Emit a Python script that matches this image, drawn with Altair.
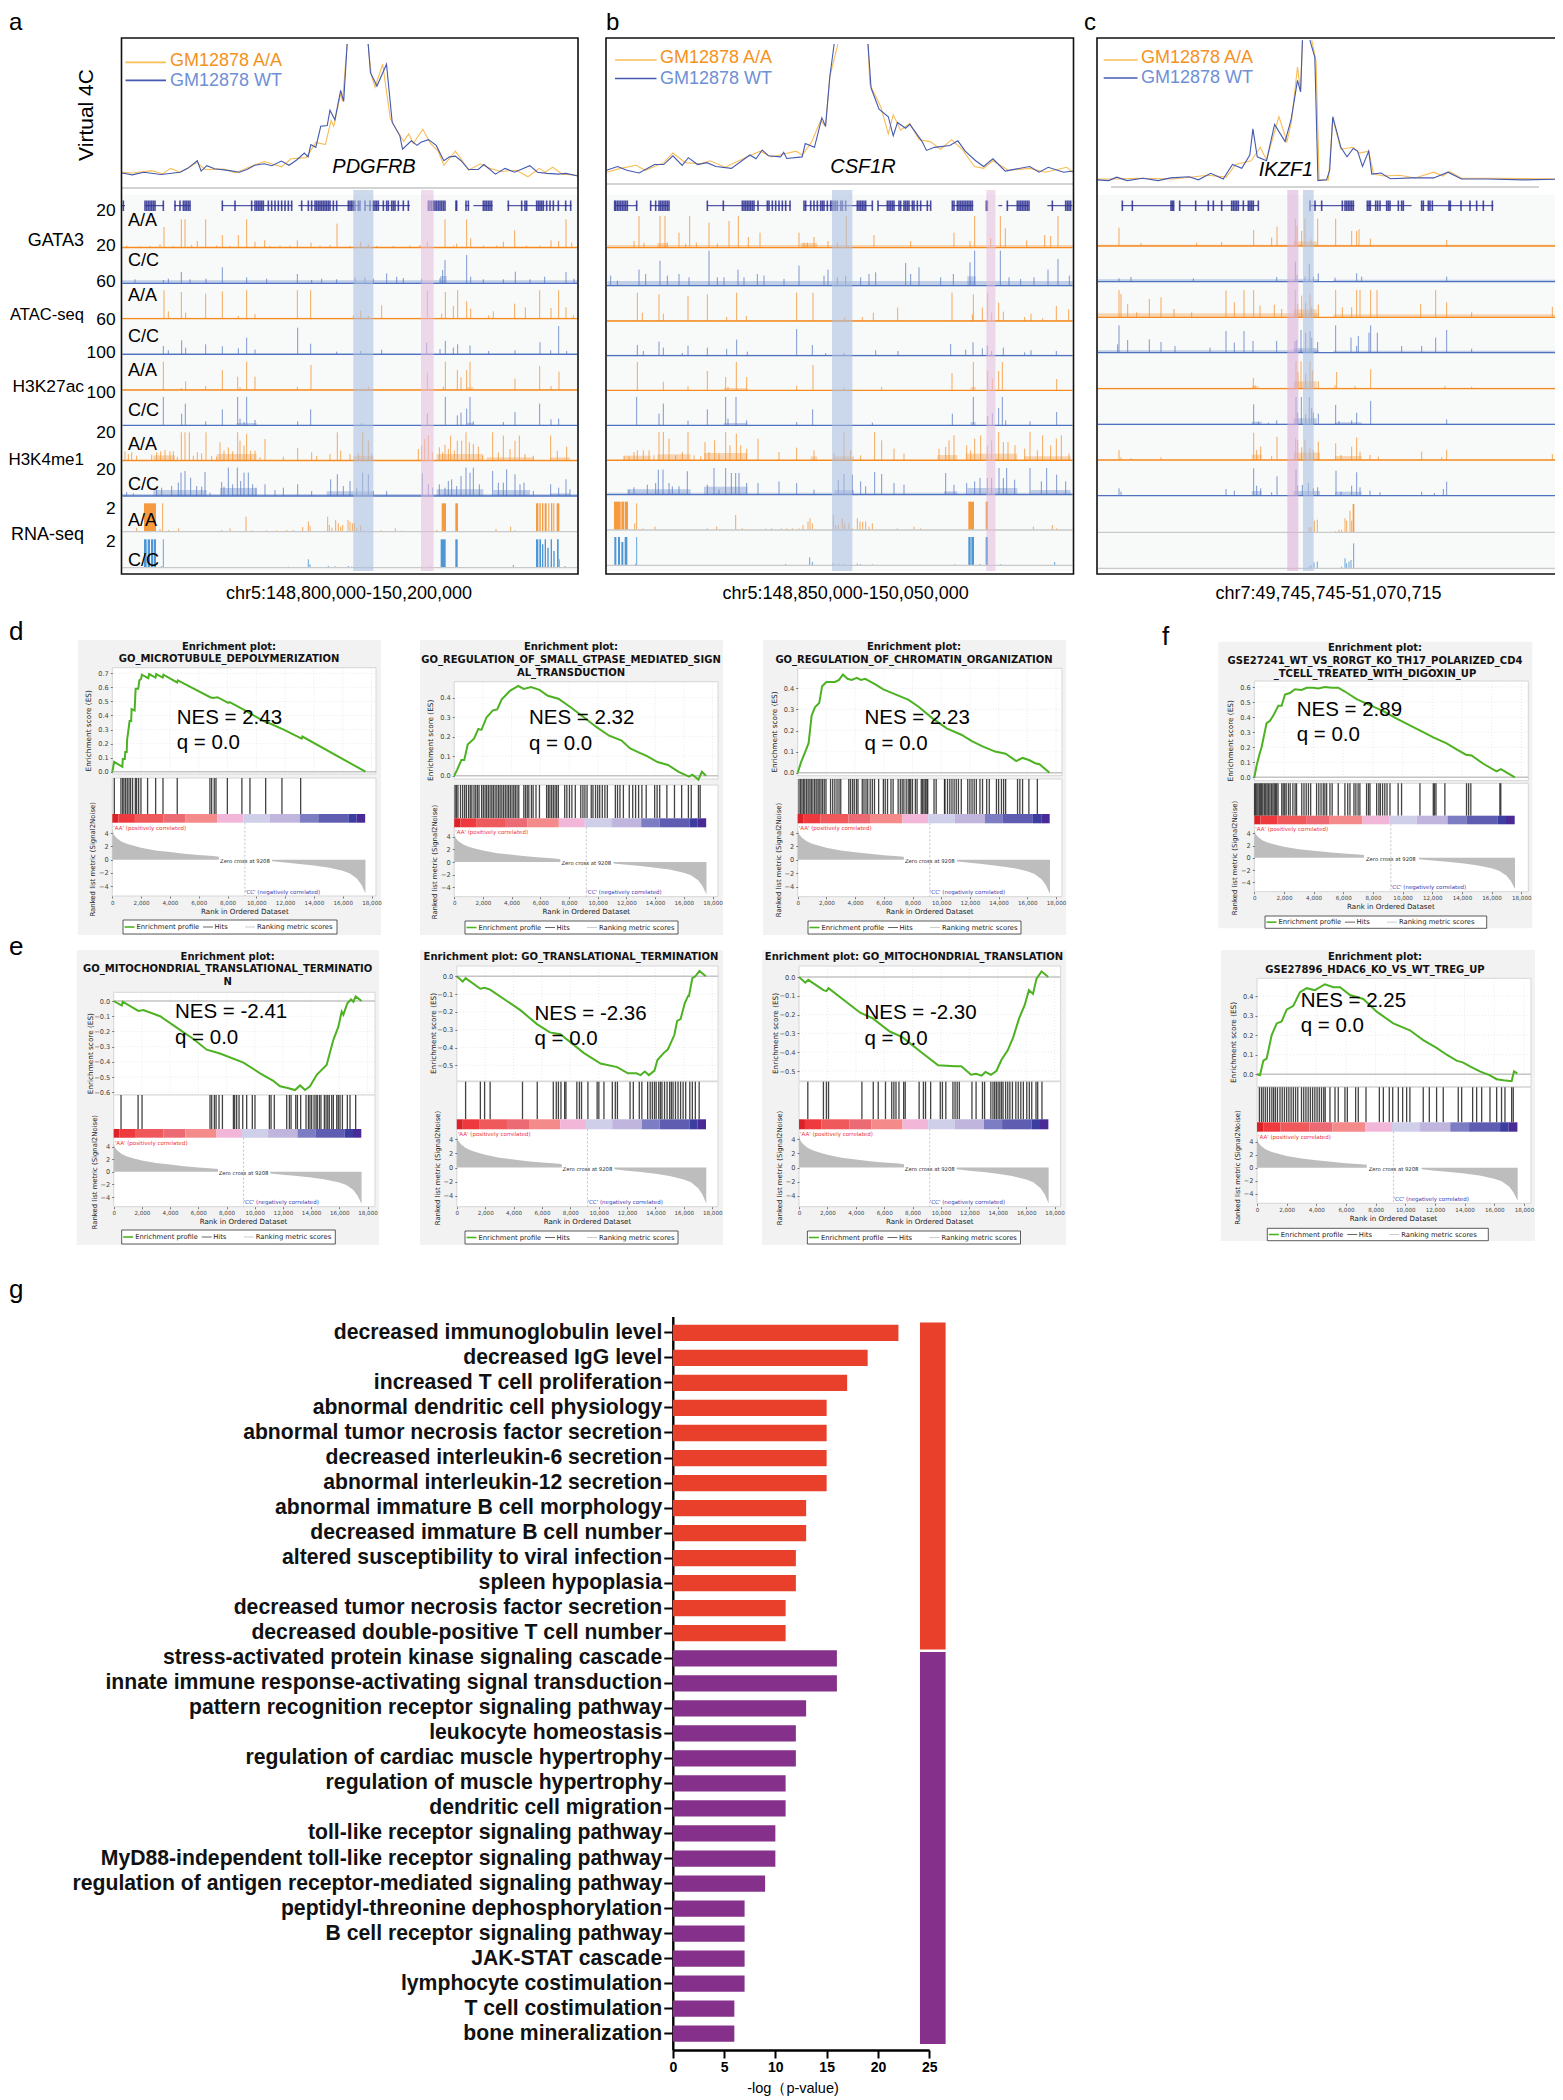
import altair as alt
import pandas as pd

SANS = "Liberation Sans"
DV = "DejaVu Sans"
ORANGE = "#f58a1f"
BLUE = "#4f72c0"
RNA_BLUE = "#2f86d0"
W, H = 1547, 2088
ONE = alt.Data(values=[{"a": 1}])

# ---------------- bar chart values (panel g)
TERMS = ["decreased immunoglobulin level", "decreased IgG level", "increased T cell proliferation",
         "abnormal dendritic cell physiology", "abnormal tumor necrosis factor secretion",
         "decreased interleukin-6 secretion", "abnormal interleukin-12 secretion",
         "abnormal immature B cell morphology", "decreased immature B cell number",
         "altered susceptibility to viral infection", "spleen hypoplasia",
         "decreased tumor necrosis factor secretion", "decreased double-positive T cell number",
         "stress-activated protein kinase signaling cascade", "innate immune response-activating signal transduction",
         "pattern recognition receptor signaling pathway", "leukocyte homeostasis",
         "regulation of cardiac muscle hypertrophy", "regulation of muscle hypertrophy",
         "dendritic cell migration", "toll-like receptor signaling pathway",
         "MyD88-independent toll-like receptor signaling pathway",
         "regulation of antigen receptor-mediated signaling pathway", "peptidyl-threonine dephosphorylation",
         "B cell receptor signaling pathway", "JAK-STAT cascade", "lymphocyte costimulation",
         "T cell costimulation", "bone mineralization"]
LOGP = [22, 19, 17, 15, 15, 15, 15, 13, 13, 12, 12, 11, 11, 16, 16, 13, 12, 12, 11, 11, 10, 10, 9, 7, 7, 7, 7, 6, 6]
N_GROUP1 = 13

# ---------------- virtual 4C (window position, contact)
C4_A_WT = [318,38,345,33,375,40,420,34,470,40,490,50,515,70,525,43,540,57,560,49,600,44,625,40,645,47,665,58,690,62,710,57,735,69,755,58,775,72,795,90,805,80,812,112,825,105,838,160,855,162,862,202,875,177,890,254,898,225,907,375,930,None,962,375,968,300,985,265,1010,322,1025,170,1045,135,1052,100,1075,122,1090,110,1100,118,1120,125,1140,110,1160,70,1175,80,1190,82,1205,70,1225,47,1250,47,1265,60,1295,35,1320,50,1345,40,1385,57,1405,40,1430,37,1460,35,1480,37,1510,30]
C4_A_AA = [318,40,345,38,395,44,425,36,445,50,470,40,515,65,535,47,585,48,615,38,650,53,690,68,735,54,760,75,800,78,825,118,850,112,865,175,872,160,890,245,895,225,907,375,930,None,962,375,970,295,980,262,1000,322,1020,180,1040,145,1055,120,1068,140,1080,115,1105,152,1125,115,1145,95,1160,58,1190,95,1205,75,1225,45,1255,62,1280,50,1310,42,1350,45,1380,28,1410,50,1425,40,1445,53,1470,35,1510,32]
C4_B_WT = [12,35,30,45,45,35,65,28,90,50,105,50,120,73,135,48,145,68,160,50,175,55,190,45,215,40,245,75,255,65,265,88,275,73,295,70,300,82,305,66,330,70,335,105,350,95,362,172,368,150,375,280,382,365,410,None,437,365,442,250,455,195,470,175,478,125,485,160,498,145,505,155,525,110,532,87,545,95,570,100,583,112,595,85,612,60,625,45,640,65,660,33,700,45,715,30,730,43,755,30,771,33]
C4_B_AA = [12,30,35,40,60,48,75,35,105,55,120,80,140,55,165,52,180,60,205,43,240,70,262,85,280,70,320,85,330,75,345,108,360,165,368,150,375,280,388,365,410,None,437,365,440,260,458,200,470,130,478,180,490,140,505,158,520,115,538,110,555,90,573,115,590,90,610,45,625,40,640,60,665,35,700,40,725,30,760,43,771,28]
C4_C_WT = [812,2,830,0,843,9,860,0,885,6,910,0,930,7,960,10,975,2,995,19,1015,4,1030,42,1045,32,1058,67,1063,135,1070,62,1085,52,1098,147,1115,102,1125,162,1135,262,1140,232,1143,367,1149,None,1155,367,1163,322,1168,0,1182,2,1187,27,1192,167,1205,87,1215,62,1225,84,1232,77,1240,37,1250,77,1255,17,1270,20,1285,5,1320,7,1355,7,1378,22,1400,4,1440,4,1500,2,1563,4]
C4_C_AA = [812,4,840,4,880,6,935,4,990,14,1020,9,1035,42,1060,52,1075,87,1085,54,1105,167,1118,102,1125,152,1135,297,1140,232,1143,367,1150,None,1158,367,1165,312,1170,2,1185,2,1192,162,1205,82,1225,87,1235,72,1250,77,1258,17,1275,12,1300,14,1325,7,1355,22,1370,12,1380,24,1400,6,1450,6,1563,4]

# ---------------- genome tracks: flat lists of (position, height)
A_TR = [
 [20,6,60,4,90,5,120,10,132,62,160,5,184,85,195,85,215,8,232,20,257,85,290,6,307,38,330,5,355,38,380,85,405,18,434,22,450,5,480,6,510,6,532,22,573,15,600,6,630,8,651,72,690,5,722,18,745,10,770,5,820,5,870,6,900,8,922,18,975,85,1000,6,1010,12,1040,85,1052,28,1090,6,1130,6,1150,18,1184,52,1220,6,1260,6,1293,22,1316,20,1338,85,1355,15],
 [45,12,130,10,145,14,184,34,210,12,258,14,307,48,380,18,440,14,532,28,575,10,605,14,650,12,705,18,735,18,760,14,800,30,830,20,850,16,905,14,960,15,968,40,975,70,1040,85,1052,20,1090,12,1150,12,1186,35,1230,12,1274,20,1338,34,1362,14],
 [132,85,145,22,184,80,197,18,257,75,307,82,355,8,380,85,405,14,532,85,572,85,700,10,722,24,745,8,785,40,922,85,965,15,976,80,1000,38,1013,85,1040,52,1052,30,1106,10,1120,22,1184,45,1216,34,1259,85,1293,32,1316,85,1338,34,1360,10],
 [130,25,145,12,185,42,197,20,257,30,307,24,355,18,380,50,405,14,533,80,572,32,650,8,722,10,785,14,920,35,960,16,976,40,1000,20,1013,30,1050,26,1106,10,1185,12,1260,36,1292,12,1316,85,1340,10],
 [130,85,184,6,197,26,257,12,307,60,353,40,360,8,380,85,405,40,532,10,573,75,745,10,922,52,970,10,976,85,1012,60,1023,38,1040,60,1050,85,1185,34,1259,72,1293,12,1317,55],
 [130,85,185,35,196,65,257,12,307,48,353,85,360,20,372,10,380,85,405,16,533,12,572,48,725,6,922,35,976,85,1012,30,1023,38,1040,50,1050,85,1060,12,1150,10,1185,40,1259,65,1293,18,1316,20],
 [15,28,25,20,35,25,50,15,95,18,110,25,122,28,135,32,150,28,160,28,172,12,184,85,195,85,208,85,220,15,232,25,245,22,258,85,275,14,290,12,300,55,312,30,325,40,338,28,353,85,360,60,372,45,380,80,392,30,405,30,420,10,435,65,490,12,533,38,575,25,590,14,630,20,652,85,662,30,690,20,715,20,728,85,745,60,755,20,895,35,905,45,914,65,925,75,937,25,958,40,968,25,975,48,985,35,992,75,1003,30,1012,60,1025,60,1038,85,1048,55,1060,50,1075,42,1088,15,1118,85,1135,25,1150,75,1170,35,1185,60,1198,75,1215,20,1240,15,1292,75,1312,30,1340,42],
 [20,12,40,8,110,20,125,25,155,30,175,40,183,70,195,75,212,55,230,30,245,28,255,72,270,10,305,42,312,28,325,85,338,35,352,85,362,45,372,70,385,70,398,35,408,25,435,35,465,18,490,25,533,35,575,15,632,50,652,65,670,30,690,45,710,25,728,70,745,65,760,15,800,15,907,68,925,35,938,25,958,35,975,25,985,45,995,50,1010,30,1023,60,1038,85,1050,70,1060,85,1078,35,1118,75,1135,40,1150,40,1160,80,1185,65,1200,35,1212,40,1240,15,1292,35,1316,25,1338,50,1350,20],
 [50,12,120,8,128,85,146,5,176,10,305,5,330,10,378,45,395,4,440,4,470,4,500,5,520,5,548,14,565,30,570,18,623,45,628,20,636,12,647,35,655,25,662,15,668,20,684,35,690,30,697,25,703,25,710,10,722,18,783,4,826,10,846,3,950,5,1128,8,1172,15,1185,4],
 [125,5,130,85,505,3,565,25,570,10,625,5,645,4,685,5,695,3,930,4,1180,8,1335,5],
]
A_BLOCKS = [[], [], [], [], [], [], [], [], [72,108,85,965,978,85,1006,1014,85,1248,1255,85,1258,1262,85,1266,1270,85,1274,1280,85,1285,1288,85,1293,1297,85,1300,1303,85,1310,1318,85],
            [72,80,85,83,90,85,93,100,85,102,108,85,962,977,85,1006,1013,85,1248,1255,85,1258,1263,85,1266,1270,70,1274,1278,85,1282,1286,60,1292,1296,85,1300,1304,50,1311,1316,85,1318,1320,25]]
# low background signal: flat (start, end, level)
A_NOISE = [[6,1374,4], [6,1374,9,960,980,22], [6,1374,3], [6,1374,3], [6,1374,2,1040,1060,8], [6,1374,1,350,410,7,1040,1060,8],
           [6,1374,4,100,165,16,290,410,20,700,760,14,950,1090,20,1100,1240,10,1290,1350,10],
           [6,1374,6,100,260,18,300,410,24,620,760,14,950,1090,20,1120,1230,18,1290,1350,8], [], []]

B_TR = [
 [90,20,105,95,120,15,168,95,183,95,190,15,225,45,245,12,257,95,277,15,315,75,340,12,375,80,403,95,433,32,468,45,585,45,600,15,610,15,630,32,672,20,700,15,727,95,810,38,920,20,1050,45,1098,20,1112,95,1160,28,1189,95,1204,58,1268,22,1322,38,1340,35,1362,95],
 [20,30,40,15,105,48,125,35,168,75,190,30,225,35,255,25,315,105,340,25,360,25,402,48,420,25,460,35,480,30,540,20,585,60,660,30,672,48,700,25,725,30,770,25,795,35,815,40,905,68,920,35,945,55,1010,25,1048,35,1098,70,1112,105,1189,105,1215,25,1250,20,1290,25,1332,48,1362,80,1396,30],
 [100,85,115,25,165,80,178,22,252,75,310,80,368,12,398,85,427,15,578,85,627,85,722,10,775,12,808,25,881,40,1044,85,1105,20,1108,80,1135,40,1151,85,1163,25,1184,55,1198,28,1262,12,1281,22,1316,8,1357,45,1394,35],
 [100,32,118,14,165,42,178,24,235,8,252,30,310,24,368,20,398,48,430,12,578,80,625,32,665,8,720,8,815,16,882,14,1040,35,1085,18,1107,40,1135,22,1150,30,1163,14,1198,24,1262,10,1281,16,1357,14],
 [100,85,178,26,252,12,310,58,365,40,372,10,397,85,428,40,578,14,627,76,720,8,833,10,1044,52,1108,85,1151,58,1165,36,1184,58,1195,85,1358,34],
 [98,85,165,35,178,65,252,14,310,48,365,85,372,20,396,85,428,15,578,10,626,48,805,8,1045,35,1108,85,1151,28,1165,36,1184,52,1195,85,1205,15,1278,12,1358,40],
 [60,14,75,12,90,25,100,30,118,30,135,30,150,15,165,85,178,85,195,65,215,15,235,25,252,85,270,15,290,12,303,55,315,25,332,60,345,20,365,85,378,45,397,80,410,45,428,35,462,65,525,25,578,38,630,30,690,20,720,85,740,30,770,15,812,85,833,60,870,35,900,20,1005,35,1025,40,1035,60,1050,75,1088,45,1100,30,1112,65,1130,75,1150,45,1163,60,1184,85,1198,55,1212,55,1233,45,1262,35,1278,85,1300,30,1316,75,1340,45,1357,65,1372,75,1395,20],
 [75,15,90,22,130,30,155,35,163,75,177,75,195,35,205,25,225,25,250,70,310,30,330,80,345,15,365,80,382,65,395,65,405,65,428,35,462,35,525,40,578,35,630,15,703,45,720,62,745,60,770,40,785,25,812,68,833,62,870,35,900,30,1025,65,1050,30,1088,35,1112,40,1128,50,1150,50,1163,50,1185,80,1198,50,1208,80,1232,45,1278,80,1312,40,1328,80,1358,60,1385,40],
 [92,20,98,80,117,5,153,10,310,5,338,10,395,45,415,5,485,4,503,5,532,5,548,5,565,5,585,5,597,15,612,25,618,35,625,20,688,45,695,15,703,15,715,35,722,20,735,20,745,5,760,35,768,25,776,25,785,25,795,10,805,20,880,5,930,10,950,5,1288,10,1345,15,1358,5],
 [95,5,98,85,545,4,617,24,625,10,688,6,705,4,720,3,760,5,770,4,805,3,1052,3,1128,4,1190,3,1352,10],
]
B_BLOCKS = [[], [], [], [], [], [], [], [], [30,50,85,52,60,85,62,72,85,1093,1110,85,1145,1152,85],
            [31,37,85,42,48,85,52,58,70,62,70,85,1093,1100,85,1102,1110,85,1145,1152,85]]
B_NOISE = [[10,1406,8,160,190,14,590,640,14], [10,1406,14,1090,1115,28], [10,1406,3], [10,1406,3], [10,1406,1,360,430,7,1100,1115,10], [10,1406,1,360,430,7,1100,1115,10],
           [10,1406,4,60,140,14,160,260,18,300,430,22,620,640,12,690,750,12,1000,1060,16,1085,1240,20,1260,1400,12],
           [10,1406,6,70,260,16,300,430,24,690,750,14,1020,1060,10,1090,1240,20,1280,1400,14], [], []]

C_TR = [
 [72,55,138,8,305,10,380,12,476,48,530,25,546,58,601,82,606,60,620,45,630,82,648,20,668,82,722,82,770,45,785,45,792,50,826,22,1055,18],
 [72,10,108,14,295,10,545,14,601,60,606,20,630,15,643,52,655,15,670,25,720,12,785,25,800,15,1055,15],
 [72,82,78,70,98,40,125,15,163,55,198,60,237,25,290,15,393,80,418,45,447,82,476,82,495,35,538,38,560,25,601,82,608,40,620,65,632,45,645,70,650,30,670,38,722,82,742,30,770,30,785,82,795,82,827,82,846,82,977,40,1022,82,1055,45,1130,15,1372,32],
 [68,25,72,82,98,38,163,40,198,32,240,20,345,15,393,65,418,30,447,65,474,35,545,35,600,35,605,38,618,68,632,60,645,65,650,45,668,32,722,82,768,45,785,20,790,50,822,60,827,82,847,60,920,20,980,20,1022,45,1055,68,1130,12],
 [475,32,480,10,603,82,609,50,618,82,632,45,645,82,652,55,670,22,720,10,725,50,780,8,827,58,1050,8,1130,6],
 [476,60,490,8,520,5,545,12,603,82,608,35,619,82,632,30,643,82,650,50,655,35,670,32,722,58,732,10,770,12,785,35,827,70,1055,15],
 [72,30,78,8,108,5,198,8,476,82,485,30,497,40,530,12,546,70,602,65,608,60,620,38,630,60,645,35,655,30,670,55,722,50,738,15,770,40,785,68,795,25,825,15,850,10,980,25,1040,8,1055,30,1372,18],
 [72,22,78,12,393,20,418,15,476,82,485,30,497,22,530,10,546,58,603,78,608,30,622,32,640,38,655,22,668,25,723,75,738,12,770,30,785,70,795,25,825,15,855,10,980,12,1018,8,1045,20,1055,42],
 [642,15,648,15,658,35,667,38,722,4,732,8,740,8,750,42,755,35,765,65,770,35],
 [642,5,648,10,657,18,667,20,740,5,750,30,755,15,762,20,768,25,776,75],
]
C_BLOCKS = [[], [], [], [], [], [], [], [], [773,778,85], []]
C_NOISE = [[8,1396,4,595,665,14], [8,672,7,715,1396,6], [8,672,12,715,1396,9,595,665,24], [8,672,7,715,1396,6,595,665,14],
           [8,1396,3,595,665,22,470,490,8], [8,1396,2,595,665,18,470,500,8,720,800,6],
           [8,1396,1,470,500,16,595,675,22,720,800,12], [8,1396,1,470,500,14,595,675,14,720,800,12], [], []]

# ---------------- genes: intron spans and exon positions
A_SPANS = [5,15,75,132,162,212,307,517,535,720,735,870,1035,1048,1060,1118,1162,1340,1337,1355]
A_EXONS = [10,75,80,85,90,95,100,105,130,165,180,190,195,200,205,210,307,345,395,405,410,415,420,425,430,445,455,465,475,485,495,505,515,545,565,575,585,590,595,600,605,610,615,620,625,630,640,650,685,690,695,700,705,715,720,735,750,760,765,770,775,790,800,805,815,820,825,835,850,865,925,930,935,940,945,950,955,960,965,970,975,1008,1010,1038,1045,1090,1095,1100,1105,1110,1115,1165,1205,1215,1220,1250,1255,1260,1265,1270,1280,1290,1300,1315,1337,1352]
B_SPANS = [35,100,138,195,310,560,600,805,822,980,1045,1108,1183,1195,1208,1275,1330,1405]
B_EXONS = [32,35,40,45,50,55,60,65,70,98,140,155,165,170,175,180,185,190,195,310,358,415,420,425,430,435,440,445,450,462,490,495,505,515,525,535,545,558,600,605,620,630,640,650,655,660,670,680,685,690,695,700,710,715,725,760,765,770,775,780,785,805,822,850,855,860,865,870,885,890,900,905,910,915,925,930,940,950,970,980,1045,1050,1060,1065,1070,1075,1080,1085,1090,1095,1100,1105,1147,1150,1210,1240,1245,1250,1255,1260,1265,1270,1275,1345,1385,1390,1395,1400]
C_SPANS = [80,238,254,490,645,778,815,950,977,1195]
C_EXONS = [82,112,228,232,236,254,302,340,355,380,410,415,420,425,430,445,460,465,470,475,490,645,660,680,742,750,755,760,765,770,775,817,822,826,842,848,855,875,880,885,910,920,925,980,985,1000,1005,1012,1062,1066,1098,1125,1145,1165,1192]

# ---------------- GSEA curves: flat (rank, ES)
ES_D1 = [0,0,130,.07,700,.035,730,.09,870,.09,900,.14,1000,.14,1030,.23,1100,.28,1200,.36,1310,.36,1340,.445,1550,.435,1620,.59,1800,.59,1880,.65,2000,.66,2050,.69,2500,.665,2560,.695,3000,.67,3050,.695,3500,.67,3550,.69,4500,.635,4550,.65,6800,.53,7000,.525,7300,.53,8050,.49,8150,.495,9150,.44,9650,.41,10700,.35,10800,.35,11900,.3,13150,.235,13200,.25,17580,0]
ES_D2 = [0,0,200,.03,500,.08,700,.08,940,.16,1380,.19,1680,.24,1900,.235,2260,.30,2700,.335,3000,.34,3300,.39,3880,.435,4470,.46,4850,.445,5350,.455,5940,.44,6530,.41,7260,.395,8140,.35,9030,.30,9900,.25,10800,.205,11670,.18,12260,.14,12850,.12,13440,.10,14170,.07,14900,.055,15640,.02,16370,-.005,16600,.005,17020,-.02,17260,.02,17550,0]
ES_D3 = [0,0,235,.05,530,.1,760,.14,970,.27,1200,.31,1500,.33,1700,.41,2000,.43,2590,.43,2880,.44,3150,.465,3470,.445,3760,.44,4120,.45,4410,.44,4700,.445,5380,.42,5970,.395,6850,.37,7730,.345,8470,.31,9350,.26,10380,.21,11400,.18,12140,.15,12880,.125,13760,.10,14490,.09,15230,.055,15670,.07,16110,.06,16550,.045,16850,.04,17550,0]
ES_E1 = [0,0,570,-.03,640,-.005,1750,-.065,2100,-.06,3290,-.10,4470,-.175,5650,-.25,6600,-.32,7540,-.345,9200,-.405,10380,-.475,11320,-.525,11800,-.56,12270,-.57,12860,-.585,13220,-.555,13570,-.585,13920,-.56,14400,-.485,15100,-.42,15580,-.255,15930,-.17,16170,-.07,16290,-.09,16570,-.015,16830,.01,17000,-.005,17160,.03,17580,0]
ES_E2 = [0,0,415,-.03,620,-.01,1660,-.07,1960,-.065,2350,-.075,4480,-.19,5670,-.27,6560,-.315,7300,-.325,8940,-.43,10130,-.49,11300,-.51,12060,-.545,12650,-.545,12950,-.555,13250,-.535,13540,-.555,13930,-.53,14140,-.47,14590,-.43,14880,-.41,15330,-.33,15530,-.25,15770,-.24,16070,-.15,16300,-.11,16360,-.11,16600,-.01,16810,0,17100,.03,17550,0]
ES_E3 = [0,0,445,-.03,650,-.015,1720,-.07,1930,-.075,2080,-.06,4310,-.19,5200,-.22,6390,-.29,7280,-.32,8610,-.40,9800,-.47,10990,-.475,11430,-.475,12120,-.52,12470,-.515,12860,-.525,13130,-.505,13510,-.52,13900,-.50,14260,-.44,14700,-.39,15090,-.32,15500,-.22,15890,-.15,16190,-.07,16480,-.09,16720,-.01,17080,.03,17550,0]
ES_F1 = [0,0,160,.08,340,.15,490,.2,830,.36,1060,.375,1280,.41,1620,.475,1840,.475,2070,.55,2400,.56,2740,.585,3190,.58,3530,.595,3980,.595,4310,.59,4760,.6,5210,.595,5660,.595,6110,.57,6900,.52,7800,.48,8700,.44,9600,.39,10490,.345,11390,.30,12070,.265,12970,.225,13640,.185,14270,.15,14650,.145,15440,.09,16340,.04,16630,.055,17570,0]
ES_F2 = [0,0,200,-.005,430,.07,650,.08,990,.2,1330,.26,1660,.27,2000,.33,2450,.35,2900,.42,3350,.44,3910,.43,4580,.46,5150,.445,5600,.445,6270,.405,7170,.385,8070,.32,9190,.26,10310,.225,11210,.175,12110,.135,12790,.10,13460,.07,13910,.06,14360,.04,15030,.015,15710,-.005,16160,-.025,16610,-.03,17170,-.035,17330,.015,17550,.005]

HITS_D1 = [140,600,720,810,925,1040,1160,1270,1410,1600,1690,1830,1990,2450,3010,3520,4510,6780,6900,7080,7200,7990,9000,9560,10650,11780,13080]
HITS_D2 = [60,150,260,440,590,730,850,1000,1120,1230,1380,1500,1620,1730,1910,2030,2150,2260,2380,2500,2620,2730,2850,2970,3090,3200,3320,3440,3560,3680,3790,3910,4030,4150,4260,4380,4500,4850,4970,5090,5200,5380,5500,5700,5940,6440,6560,6670,6790,6910,7030,7140,7260,7700,7850,8030,8200,8440,8820,8970,9110,9260,9550,9670,9850,10000,10140,10320,10500,10670,11230,11380,11550,11790,12200,12440,12640,12850,13080,13380,13970,14140,14320,14820,15350,15850,16320,16520,17020,17140]
HITS_D3 = [90,200,300,410,500,620,730,850,950,1060,1180,1290,1410,1500,1620,1730,1850,1970,2290,2440,2590,2740,2880,3000,3560,3680,3820,3940,4090,4200,4500,4620,4760,4880,5050,5200,5350,5640,5970,6100,6260,6500,6650,7000,7150,7280,7400,7560,7700,7800,7880,8000,8200,8320,8610,8700,8800,8900,9000,9060,9500,9650,10230,10260,10440,10600,10750,10900,11050,11200,11400,11850,12000,12150,12300,12450,12700,12880,13170,13350,13850,14000,14200,14350,14490,15320,15480,15670,16110,16700]
HITS_E1 = [520,1730,2010,6830,6950,7140,7260,7470,7710,8490,8580,8720,8890,9150,9430,9830,10020,11040,11160,11390,12270,12460,12580,12910,13030,13260,13640,13810,13920,14040,14210,14350,14440,14590,14700,14940,15060,15180,15290,15460,15580,15820,15930,16050,16220,16570,16760,17160]
HITS_E2 = [620,1660,1960,2350,4630,5670,6800,7010,7160,7340,7600,7690,8460,8640,8790,9240,9890,10010,10370,10960,11170,11320,12210,12440,12860,13040,13450,13630,13780,13930,14050,14230,14350,14460,14640,14820,15000,15120,15240,15410,15590,15770,15950,16130,16420,16600,16810,17080]
HITS_E3 = [620,1720,1930,2080,4430,5230,5580,6090,6530,6680,6830,7040,7370,7480,8460,8760,8910,9270,9950,10100,10340,10840,10990,11140,11290,12180,12470,12920,13070,13510,13660,13780,13900,14020,14140,14260,14370,14550,14700,14850,15030,15270,15440,15620,15800,16040,16220,16390,16690,16810,17110]
HITS_F1 = [20,90,170,250,340,430,500,580,680,770,860,950,1050,1150,1250,1340,1420,1500,1600,1850,1950,2050,2150,2300,2420,2600,2750,2850,3200,3350,3500,3650,3800,4200,4350,4500,4650,4760,4880,5100,5250,5660,6110,6300,6450,6720,6850,7000,7120,7570,7700,7800,8250,8400,8500,8650,8800,8950,9150,9700,9930,11170,12070,12150,12250,12850,14310,14450,14600,16560,16620]
HITS_F2 = [160,300,420,560,700,850,1000,1120,1240,1380,1550,1700,1850,2000,2150,2300,2450,2600,2750,3000,3150,3300,3450,3600,3750,3900,4050,4200,4350,4500,4600,4920,5260,5480,5930,6090,6650,6830,7350,8250,8520,8920,9150,9530,9820,10090,10310,11210,11620,12110,12560,13570,13800,14540,14810,15150,15710,16160,16490,16720,17170,17280]

METRIC_POS = [0,4.6,100,3.8,300,3.3,600,2.8,1000,2.4,1500,2.1,2000,1.8,3000,1.4,4000,1.15,5000,.9,6000,.7,7000,.55,7400,.45]
METRIC_NEG = [11100,-.25,12000,-.45,13000,-.65,14000,-.9,15000,-1.2,16000,-1.7,16500,-2.1,17000,-2.9,17300,-3.8,17580,-5.1]
BAR_EDGES = [0,420,1570,3540,5090,7290,9100,10950,13030,14300,16390,16970,17560]
BAR_COLORS = ["#dc2127","#ee3a3e","#f0595c","#ec6a74","#f48a8a","#f2b6d8","#cfcfe9","#bfb5dd","#7d7dc3","#5f5db1","#3b3d9f","#4a2a96"]
RANK_TICKS = [0,2000,4000,6000,8000,10000,12000,14000,16000,18000]

# ---------------- helpers
def S(domain, a, b):
    return alt.Scale(domain=domain, range=[a - 8, b - 8], nice=False, zero=False)

def pairs(flat, a="x", b="y"):
    return pd.DataFrame({a: flat[0::2], b: flat[1::2]})

def text(s, x, y, size, color="#000", font=SANS, weight="normal", style="normal", align="left", angle=0, baseline="middle"):
    return alt.Chart(ONE).mark_text(font=font, fontSize=size, color=color, fontWeight=weight, fontStyle=style,
                                    align=align, baseline=baseline, angle=angle).encode(
        x=alt.value(x - 8), y=alt.value(y - 8), text=alt.value(s))

def box(x0, y0, x1, y1, fill, stroke=None, sw=1, opacity=1):
    kw = dict(fill=fill, opacity=opacity, strokeWidth=sw)
    if stroke:
        kw["stroke"] = stroke
    return alt.Chart(ONE).mark_rect(**kw).encode(x=alt.value(x0 - 8), x2=alt.value(x1 - 8), y=alt.value(y0 - 8), y2=alt.value(y1 - 8))

def hline(x0, x1, y, color, sw=1):
    return alt.Chart(ONE).mark_rule(color=color, strokeWidth=sw).encode(x=alt.value(x0 - 8), x2=alt.value(x1 - 8), y=alt.value(y - 8))

L = []

# ---------------- genome panels
GEN = [
 dict(frame=(121.5, 578), win=(0, 1380), px=(120, 580), base=[173,280,386,493,600,706,812,918,1025,1133], tr=A_TR, bl=A_BLOCKS, no=A_NOISE,
      spans=A_SPANS, ex=A_EXONS, bands=[(700,760,"#aebfdf",.6),(903,941,"#e3bddd",.55)], c4=(318,1511), c4base=187.5, wt=C4_A_WT, aa=C4_A_AA,
      axis=(122,578,188), gene="PDGFRB", gx=374, gy=167, coord="chr5:148,800,000-150,200,000", cx=349, lab=(125.5,166,170,62.4,80.4,60.5,81)),
 dict(frame=(606, 1073.5), win=(0, 1416), px=(604, 1076), base=[173,287,393,497,601,706,811,914,1020,1126], tr=B_TR, bl=B_BLOCKS, no=B_NOISE,
      spans=B_SPANS, ex=B_EXONS, bands=[(684,745,"#aebfdf",.6),(1147,1174,"#e3bddd",.55)], c4=(12,771), c4base=183.7, wt=C4_B_WT, aa=C4_B_AA,
      axis=(607,1073,184), gene="CSF1R", gx=863, gy=167, coord="chr5:148,850,000-150,050,000", cx=845.7, lab=(615,656.5,660,60,78.5,58,78.5)),
 dict(frame=(1097, 1562.5), win=(0, 1404), px=(1095, 1563), base=[168,275,382,488,596,703,810,917,1027,1135], tr=C_TR, bl=C_BLOCKS, no=C_NOISE,
      spans=C_SPANS, ex=C_EXONS, bands=[(577,610,"#dcb0d8",.6),(624,656,"#aebfdf",.6)], c4=(812,1563), c4base=180.6, wt=C4_C_WT, aa=C4_C_AA,
      axis=(1111,1539,187), gene="IKZF1", gx=1286, gy=170, coord="chr7:49,745,745-51,070,715", cx=1328.5, lab=(1103.7,1137.5,1141,60,78,58,78)),
]
RNA_TRACKS = {8, 9}
for g in GEN:
    fx0, fx1 = g["frame"]
    xs = S(list(g["win"]), *g["px"])
    L.append(box(fx0, 195, fx1, 571, "#f8f9f9"))
    L.append(hline(*g["axis"], "#a8a8a8", 1.2))
    # virtual 4C lines
    c4x = S(list(g["c4"]), fx0 + 0.5, fx1)
    c4y = S([0, 375], g["c4base"], g["c4base"] - 375 / 2.613)
    for arr, col in ((g["aa"], "#f8bd55"), (g["wt"], "#4459b0")):
        L.append(alt.Chart(pairs(arr, "p", "v")).mark_line(color=col, strokeWidth=1.1).encode(
            x=alt.X("p:Q", scale=c4x, axis=None), y=alt.Y("v:Q", scale=c4y, axis=None)))
    # gene track
    sp = pd.DataFrame({"a": g["spans"][0::2], "b": g["spans"][1::2]})
    L.append(alt.Chart(sp).mark_rule(color="#2b2f8f", strokeWidth=1).encode(
        x=alt.X("a:Q", scale=xs, axis=None), x2="b:Q", y=alt.value(205.7 - 8)))
    L.append(alt.Chart(pd.DataFrame({"a": g["ex"]})).mark_rule(color="#2b2f8f", strokeWidth=1.6, opacity=.85).encode(
        x=alt.X("a:Q", scale=xs, axis=None), y=alt.value(200.5 - 8), y2=alt.value(211 - 8)))
    # signal tracks
    for i, b in enumerate(g["base"]):
        base_px = 190 + b / 3
        ys = S([0, 120], base_px, base_px - 40)
        odd = i % 2 == 1
        col = (RNA_BLUE if odd else ORANGE) if i in RNA_TRACKS else (BLUE if odd else ORANGE)
        if g["no"][i]:
            fl = g["no"][i]
            nd = pd.DataFrame({"a": fl[0::3], "b": fl[1::3], "h": fl[2::3]})
            L.append(alt.Chart(nd).mark_rect(color=col, opacity=.32).encode(
                x=alt.X("a:Q", scale=xs, axis=None), x2="b:Q", y=alt.Y("h:Q", scale=ys, axis=None), y2=alt.value(base_px - 8)))
        L.append(alt.Chart(pairs(g["tr"][i], "p", "h")).mark_rule(color=col, strokeWidth=1, opacity=.72).encode(
            x=alt.X("p:Q", scale=xs, axis=None), y=alt.Y("h:Q", scale=ys, axis=None), y2=alt.value(base_px - 8)))
        if g["bl"][i]:
            fl = g["bl"][i]
            bd = pd.DataFrame({"a": fl[0::3], "b": fl[1::3], "h": fl[2::3]})
            L.append(alt.Chart(bd).mark_rect(color=col, opacity=.85).encode(
                x=alt.X("a:Q", scale=xs, axis=None), x2="b:Q", y=alt.Y("h:Q", scale=ys, axis=None), y2=alt.value(base_px - 8)))
        L.append(hline(fx0 + 1, fx1 - 1, base_px, "#c9c9c9" if i in RNA_TRACKS else col, 1.4))
    # highlight bands
    for a, b, c, o in g["bands"]:
        bd = pd.DataFrame({"a": [a], "b": [b]})
        L.append(alt.Chart(bd).mark_rect(color=c, opacity=o).encode(
            x=alt.X("a:Q", scale=xs, axis=None), x2="b:Q", y=alt.value(190 - 8), y2=alt.value(571 - 8)))
    L.append(box(fx0, 38, fx1, 574, "transparent", "#111", 1.6))
    lab = g["lab"]
    L.append(hline(lab[0], lab[1], lab[3], "#f8bd55", 1.6))
    L.append(hline(lab[0], lab[1], lab[4], "#4459b0", 1.6))
    L.append(text("GM12878 A/A", lab[2], lab[5], 18, "#f5921e"))
    L.append(text("GM12878 WT", lab[2], lab[6], 18, "#6f8fd6"))
    L.append(text(g["gene"], g["gx"], g["gy"], 20, style="italic", align="center"))
    L.append(text(g["coord"], g["cx"], 594, 18, align="center"))

L.append(text("Virtual 4C", 87, 115, 21, align="center", angle=270))
for s, y in zip(["20","20","60","60","100","100","20","20","2","2"], [210.5,246,282.4,319.6,352.5,393,432.5,469.6,509,541.5]):
    L.append(text(s, 115.6, y, 17.4, align="right"))
for s, y, sz in zip(["GATA3","ATAC-seq","H3K27ac","H3K4me1","RNA-seq"], [241,315,387,460,535], [18,16.6,17.4,17,18]):
    L.append(text(s, 84, y, sz, align="right"))
for s, y in zip(["A/A","C/C"] * 5, [221,261,296,337,371,411,445,485,520.5,560.6]):
    L.append(text(s, 128, y, 18))
for s, x, y, sz in [("a",9,30,24),("b",606,30,24),("c",1084,30,24),("d",9,640,26),("e",9,955,26),("f",1162,645,26),("g",9,1298,26)]:
    L.append(text(s, x, y, sz, baseline="alphabetic"))

# ---------------- GSEA panels
GSEA = [
 dict(bg=(78,640,381,935), x0=112.3, k=14.4, right=376, es=(667.7,774), cal=(0,771.7,.7,673.3), ticks=[0,.1,.2,.3,.4,.5,.6,.7], hits=(778,814), bar=822.7, met=(823.3,896), mc=(833.3,886),
      leg=(123,920,337,934), title=["Enrichment plot:","GO_MICROTUBULE_DEPOLYMERIZATION"], ty=[646.7,659.3], tx=229, nes="NES = 2.43", np=(176.7,718,743), es_v=ES_D1, h=HITS_D1),
 dict(bg=(420,640,723,935), x0=454.2, k=14.35, right=718, es=(681.7,779), cal=(0,775.7,.4,697.7), ticks=[0,.1,.2,.3,.4], hits=(785,818.3), bar=827.3, met=(827.7,896.7), mc=(836.7,887.3),
      leg=(465,921,678,934), title=["Enrichment plot:","GO_REGULATION_OF_SMALL_GTPASE_MEDIATED_SIGN","AL_TRANSDUCTION"], ty=[647,659.7,672.7], tx=571, nes="NES = 2.32", np=(529,718.3,743.7), es_v=ES_D2, h=HITS_D2),
 dict(bg=(763,640,1066,935), x0=797.7, k=14.35, right=1062, es=(668.3,775.7), cal=(0,772.7,.4,688.3), ticks=[0,.1,.2,.3,.4], hits=(779,814), bar=823.3, met=(823.7,896.7), mc=(833,886.7),
      leg=(808,921,1021,934), title=["Enrichment plot:","GO_REGULATION_OF_CHROMATIN_ORGANIZATION"], ty=[647,659.7], tx=914, nes="NES = 2.23", np=(864.4,718.3,743.7), es_v=ES_D3, h=HITS_D3),
 dict(bg=(76.7,950,379,1245), x0=113.7, k=14.1, right=375, es=(992.3,1095), cal=(0,1001,-.6,1092.3), ticks=[0,-.1,-.2,-.3,-.4,-.5,-.6], hits=(1095,1129), bar=1137.7, met=(1138.3,1206.7), mc=(1146.7,1197),
      leg=(121.7,1230,335.3,1244), title=["Enrichment plot:","GO_MITOCHONDRIAL_TRANSLATIONAL_TERMINATIO","N"], ty=[956.7,969.3,982.3], tx=227.7, nes="NES = -2.41", np=(175,1012.3,1038.3), es_v=ES_E1, h=HITS_E1),
 dict(bg=(420,950,723,1245), x0=456.8, k=14.19, right=718, es=(966,1081), cal=(0,976.3,-.5,1065.3), ticks=[0,-.1,-.2,-.3,-.4,-.5], hits=(1081.7,1119.3), bar=1129.3, met=(1130,1206.7), mc=(1139.3,1195.7),
      leg=(465,1231,678,1244), title=["Enrichment plot: GO_TRANSLATIONAL_TERMINATION"], ty=[957], tx=571, nes="NES = -2.36", np=(534.4,1014,1039), es_v=ES_E2, h=HITS_E2),
 dict(bg=(762,950,1066,1245), x0=799, k=14.2, right=1060.6, es=(966,1081), cal=(0,977,-.5,1071), ticks=[0,-.1,-.2,-.3,-.4,-.5], hits=(1081.7,1119.3), bar=1129.3, met=(1130,1206.7), mc=(1139.3,1195.7),
      leg=(807.4,1231,1020.5,1244), title=["Enrichment plot: GO_MITOCHONDRIAL_TRANSLATION"], ty=[957], tx=914, nes="NES = -2.30", np=(864.4,1013.3,1039), es_v=ES_E3, h=HITS_E3),
 dict(bg=(1218.3,641.7,1532.3,928.3), x0=1254.3, k=14.83, right=1528.3, es=(681,780.7), cal=(0,777.3,.6,687), ticks=[0,.1,.2,.3,.4,.5,.6], hits=(783.3,815.7), bar=824.3, met=(825,891.7), mc=(833.3,882.3),
      leg=(1265,916,1486.7,928.3), title=["Enrichment plot:","GSE27241_WT_VS_RORGT_KO_TH17_POLARIZED_CD4","_TCELL_TREATED_WITH_DIGOXIN_UP"], ty=[648.3,660.7,673.7], tx=1375, nes="NES = 2.89", np=(1296.7,710,735), es_v=ES_F1, h=HITS_F1),
 dict(bg=(1221,950,1535,1241), x0=1257, k=14.83, right=1531, es=(978.3,1086.7), cal=(0,1074.3,.4,996), ticks=[0,.1,.2,.3,.4], hits=(1087.3,1122.3), bar=1131.7, met=(1132.3,1203.3), mc=(1141.7,1193.7),
      leg=(1267.3,1228.3,1488.3,1240.7), title=["Enrichment plot:","GSE27896_HDAC6_KO_VS_WT_TREG_UP"], ty=[957,970], tx=1375, nes="NES = 2.25", np=(1300.7,1001,1026), es_v=ES_F2, h=HITS_F2),
]
TICK_STYLE = dict(domain=False, title=None, grid=False, tickSize=2, tickColor="#777", labelColor="#444", labelFont=DV,
                  labelOverlap=False, labelFlush=False, labelPadding=2, zindex=1)

for p in GSEA:
    x0, right = p["x0"], p["right"]
    xs = S([0, 18000], x0, x0 + 18 * p["k"])
    v1, y1, v2, y2 = p["cal"]
    es_s = S([v1, v2], y1, y2)
    met_s = S([4, -4], *p["mc"])
    L.append(box(*p["bg"], "#f2f2f2"))
    L.append(box(x0, p["es"][0], right, p["es"][1], "#ffffff", "#d6d6d6"))
    L.append(box(x0, p["hits"][0], right, p["met"][1], "#ffffff", "#d6d6d6"))
    # grid
    L.append(alt.Chart(pd.DataFrame({"r": RANK_TICKS[1:]})).mark_rule(color="#e2e2e2", strokeWidth=.7, strokeDash=[1, 2]).encode(
        x=alt.X("r:Q", scale=xs, axis=None), y=alt.value(p["es"][0] - 8), y2=alt.value(p["es"][1] - 8)))
    L.append(alt.Chart(pd.DataFrame({"v": p["ticks"]})).mark_rule(color="#e2e2e2", strokeWidth=.7, strokeDash=[1, 2]).encode(
        y=alt.Y("v:Q", scale=es_s, axis=alt.Axis(orient="left", offset=-(x0 - 8), values=p["ticks"], format=".1f", labelFontSize=6.6, **TICK_STYLE)),
        x=alt.value(x0 - 8), x2=alt.value(right - 8)))
    # zero line and ES curve
    L.append(alt.Chart(pd.DataFrame({"v": [0]})).mark_rule(color="#c4c4c4", strokeWidth=1.4).encode(
        y=alt.Y("v:Q", scale=es_s, axis=None), x=alt.value(x0 - 8), x2=alt.value(right - 8)))
    L.append(alt.Chart(pairs(p["es_v"], "r", "e")).mark_line(color="#4db222", strokeWidth=2).encode(
        x=alt.X("r:Q", scale=xs, axis=None), y=alt.Y("e:Q", scale=es_s, axis=None)))
    # hits
    L.append(alt.Chart(pd.DataFrame({"r": p["h"]})).mark_rule(color="#1a1a1a", strokeWidth=1.3, opacity=.82).encode(
        x=alt.X("r:Q", scale=xs, axis=None), y=alt.value(p["hits"][0] - 8), y2=alt.value(p["hits"][1] - 8)))
    # colour bar
    cb = pd.DataFrame({"a": BAR_EDGES[:-1], "b": BAR_EDGES[1:], "c": BAR_COLORS})
    L.append(alt.Chart(cb).mark_rect().encode(
        x=alt.X("a:Q", scale=xs, axis=None), x2="b:Q", color=alt.Color("c:N", scale=None),
        y=alt.value(p["hits"][1] - 8), y2=alt.value(p["bar"] - 8)))
    # ranking metric
    for arr in (METRIC_POS, METRIC_NEG):
        L.append(alt.Chart(pairs(arr, "r", "m")).mark_area(color="#bdbdbd").encode(
            x=alt.X("r:Q", scale=xs, axis=None), y=alt.Y("m:Q", scale=met_s, axis=None),
            y2=alt.value((p["mc"][0] + p["mc"][1]) / 2 - 8)))
    L.append(alt.Chart(pd.DataFrame({"v": [-4, -2, 0, 2, 4]})).mark_rule(opacity=0).encode(
        y=alt.Y("v:Q", scale=met_s, axis=alt.Axis(orient="left", offset=-(x0 - 8), values=[-4, -2, 0, 2, 4], format="d", labelFontSize=6.6, **TICK_STYLE)),
        x=alt.value(x0 - 8), x2=alt.value(right - 8)))
    L.append(alt.Chart(pd.DataFrame({"r": RANK_TICKS})).mark_rule(opacity=0).encode(
        x=alt.X("r:Q", scale=xs, axis=alt.Axis(orient="bottom", offset=(p["met"][1] - 8) - H, values=RANK_TICKS, format=",.0f", labelFontSize=5.6, **TICK_STYLE)),
        y=alt.value(p["met"][0] - 8), y2=alt.value(p["met"][1] - 8)))
    # zero cross marker
    zx = x0 + 9.208 * p["k"]
    L.append(alt.Chart(pd.DataFrame({"r": [9208]})).mark_rule(color="#aaa", strokeWidth=.7, strokeDash=[2, 2]).encode(
        x=alt.X("r:Q", scale=xs, axis=None), y=alt.value(p["bar"] - 8), y2=alt.value(p["met"][1] - 8)))
    zy = (p["mc"][0] + p["mc"][1]) / 2
    L.append(text("Zero cross at 9208", zx, zy + 1, 5.3, "#333", DV, align="center"))
    L.append(text("'AA' (positively correlated)", x0 + 1, p["met"][0] + 4.2, 5.5, "#f0303a", DV))
    L.append(text("'CC' (negatively correlated)", zx, p["met"][1] - 4.5, 5.5, "#3a3ab0", DV))
    # titles
    for s, y in zip(p["title"], p["ty"]):
        L.append(text(s, p["tx"], y, 10, "#111", DV, "bold", align="center"))
    L.append(text("Rank in Ordered Dataset", zx, p["met"][1] + 15.7, 7.1, "#222", DV, align="center"))
    L.append(text("Enrichment score (ES)", x0 - 23, (p["es"][0] + p["es"][1]) / 2 + 10, 7.3, "#222", DV, align="center", angle=270))
    L.append(text("Ranked list metric (Signal2Noise)", x0 - 19, (p["bar"] + p["met"][1]) / 2, 6.9, "#222", DV, align="center", angle=270))
    # legend box
    lx0, ly0, lx1, ly1 = p["leg"]
    ly = (ly0 + ly1) / 2
    L.append(box(lx0, ly0, lx1, ly1, "#ffffff", "#333", .8))
    L.append(hline(lx0 + 1.5, lx0 + 11.5, ly, "#4db222", 1.6))
    L.append(text("Enrichment profile", lx0 + 13.5, ly, 6.8, "#222", DV))
    L.append(hline(lx0 + 80, lx0 + 90, ly, "#666", 1))
    L.append(text("Hits", lx0 + 91.5, ly, 6.8, "#222", DV))
    L.append(hline(lx0 + 122, lx0 + 132, ly, "#ccc", 1))
    L.append(text("Ranking metric scores", lx0 + 134, ly, 6.8, "#222", DV))
    # NES annotation
    L.append(text(p["nes"], p["np"][0], p["np"][1], 20.5))
    L.append(text("q = 0.0", p["np"][0], p["np"][2], 20.5))

# ---------------- bar chart (panel g)
bars = pd.DataFrame({"term": TERMS, "v": LOGP, "c": ["#e8402a"] * N_GROUP1 + ["#85308a"] * (len(TERMS) - N_GROUP1)})
bx = S([0, 25], 672.8, 929.2)
by = alt.Scale(domain=TERMS, range=[1316.6 - 8, 2050 - 8], paddingInner=.35, paddingOuter=.325)
L.append(alt.Chart(bars).mark_bar().encode(
    x=alt.X("v:Q", scale=bx, axis=alt.Axis(orient="bottom", offset=(2050 - 8) - H, values=[0, 5, 10, 15, 20, 25], title=None, grid=False,
                                           domainColor="#000", domainWidth=2.4, tickColor="#000", tickWidth=2, tickSize=8,
                                           labelFont=SANS, labelFontWeight="bold", labelFontSize=14, labelColor="#000", labelPadding=2, labelFlush=False)),
    y=alt.Y("term:N", sort=None, scale=by, axis=alt.Axis(orient="left", offset=-(672.8 - 8), title=None, grid=False,
                                                          domainColor="#000", domainWidth=2.4, tickColor="#000", tickWidth=2, tickSize=9,
                                                          labelFont=SANS, labelFontWeight="bold", labelFontSize=21.2, labelColor="#111", labelPadding=2, labelLimit=700, labelOverlap=False)),
    color=alt.Color("c:N", scale=None)))
side = pd.DataFrame({"a": [24.1, 24.1], "b": [26.6, 26.6], "r0": [0, 13.25], "r1": [13.15, 29], "c": ["#e8402a", "#85308a"]})
L.append(alt.Chart(side).mark_rect().encode(
    x=alt.X("a:Q", scale=bx, axis=None), x2="b:Q",
    y=alt.Y("r0:Q", scale=S([0, 29], 1322.4, 2044), axis=None), y2="r1:Q",
    color=alt.Color("c:N", scale=None)))
L.append(text("-log（p-value)", 793, 2088.5, 14.5, align="center"))

chart = alt.layer(*L).resolve_scale(x="independent", y="independent", color="independent").resolve_axis(
    x="independent", y="independent").properties(
    width=W, height=H, padding=0, autosize=alt.AutoSizeParams(type="none"), background="#ffffff"
).configure_view(stroke=None)

chart.save("out.html", embed_options={"renderer": "svg", "actions": False})
